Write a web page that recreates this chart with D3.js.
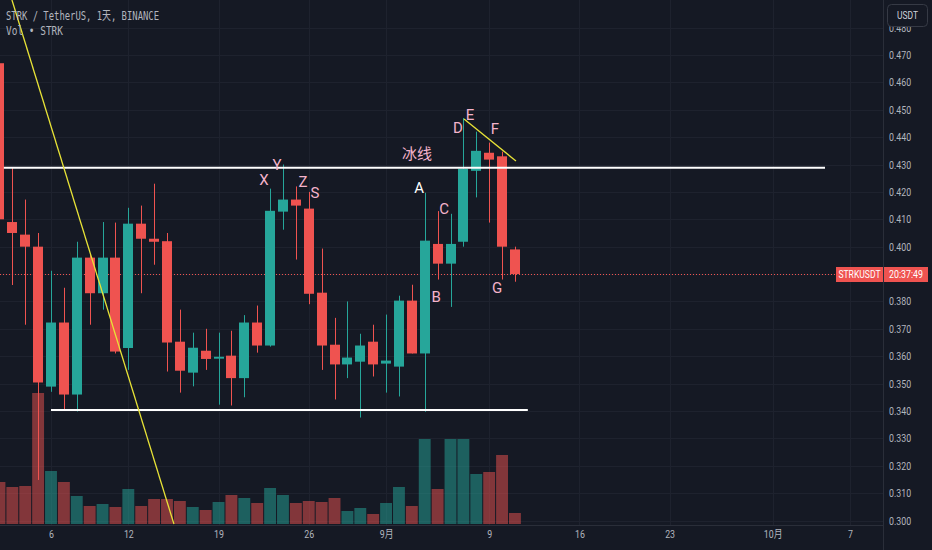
<!DOCTYPE html>
<html>
<head>
<meta charset="utf-8">
<script src="https://cdn.jsdelivr.net/npm/d3@7"></script>
<style>
    html, body { margin: 0; padding: 0; background: #141823; }
    svg { display: block; }
</style>
</head>
<body>
<div id="chart"></div>
<script>
// daily candles, STRK/USDT
const dates = ["2024-08-02", "2024-08-03", "2024-08-04", "2024-08-05", "2024-08-06", "2024-08-07", "2024-08-08",
    "2024-08-09", "2024-08-10", "2024-08-11", "2024-08-12", "2024-08-13", "2024-08-14", "2024-08-15",
    "2024-08-16", "2024-08-17", "2024-08-18", "2024-08-19", "2024-08-20", "2024-08-21", "2024-08-22",
    "2024-08-23", "2024-08-24", "2024-08-25", "2024-08-26", "2024-08-27", "2024-08-28", "2024-08-29",
    "2024-08-30", "2024-08-31", "2024-09-01", "2024-09-02", "2024-09-03", "2024-09-04", "2024-09-05",
    "2024-09-06", "2024-09-07", "2024-09-08", "2024-09-09", "2024-09-10", "2024-09-11"];
const opens = [0.467, 0.409, 0.4044, 0.400, 0.3489, 0.3723, 0.346, 0.396, 0.383, 0.396, 0.363, 0.4084, 0.4029, 0.402,
    0.3653, 0.354, 0.362, 0.3591, 0.3602, 0.352, 0.3723, 0.3639, 0.4128, 0.4172, 0.4139, 0.3832, 0.3642, 0.357,
    0.358, 0.3653, 0.3573, 0.3562, 0.3803, 0.361, 0.401, 0.3938, 0.4018, 0.4277, 0.4343, 0.433, 0.399];
const highs = [0.471, 0.4288, 0.4172, 0.405, 0.3912, 0.385, 0.4018, 0.397, 0.409, 0.4088, 0.4142, 0.415, 0.423, 0.405,
    0.377, 0.3686, 0.370, 0.3686, 0.3693, 0.375, 0.3785, 0.4212, 0.430, 0.422, 0.420, 0.3993, 0.374, 0.380,
    0.3682, 0.3715, 0.3752, 0.3821, 0.3861, 0.4197, 0.413, 0.412, 0.447, 0.442, 0.438, 0.4347, 0.400];
const lows = [0.407, 0.386, 0.3715, 0.3148, 0.347, 0.3405, 0.3398, 0.3715, 0.377, 0.361, 0.355, 0.383, 0.3934, 0.3544,
    0.3467, 0.349, 0.355, 0.3423, 0.342, 0.345, 0.3613, 0.3635, 0.4062, 0.3953, 0.379, 0.355, 0.3442, 0.352,
    0.3376, 0.3526, 0.3467, 0.3453, 0.361, 0.3397, 0.388, 0.378, 0.400, 0.418, 0.4088, 0.388, 0.3872];
const closes = [0.410, 0.405, 0.400, 0.3504, 0.3723, 0.346, 0.396, 0.383, 0.396, 0.3617, 0.4084, 0.4029, 0.4018, 0.365,
    0.3547, 0.3631, 0.359, 0.3598, 0.352, 0.3723, 0.3639, 0.4131, 0.4172, 0.415, 0.3828, 0.3639, 0.357, 0.3595,
    0.3639, 0.357, 0.3584, 0.3803, 0.361, 0.4022, 0.3938, 0.401, 0.4285, 0.435, 0.4318, 0.400, 0.390];
// volume, million STRK
const volumes = [42, 37, 38, 131, 53, 42, 28, 18, 20, 17, 35, 18, 25, 25, 23, 17, 14, 22, 29, 26, 21,
    36, 29, 21, 23, 22, 26, 13, 16, 10, 21, 37, 18, 85, 35, 85, 85, 50, 52, 69, 11];

// axis ticks
const priceTicks = [0.300, 0.310, 0.320, 0.330, 0.340, 0.350, 0.360, 0.370, 0.380, 0.390, 0.400,
    0.410, 0.420, 0.430, 0.440, 0.450, 0.460, 0.470, 0.480];
const timeTicks = ["2024-08-06", "2024-08-12", "2024-08-19", "2024-08-26", "2024-09-01", "2024-09-09",
    "2024-09-16", "2024-09-23", "2024-10-01", "2024-10-07"];
const timeLabels = ["6", "12", "19", "26", "9月", "9", "16", "23", "10月", "7"];

// drawings: [date, day fraction, price]
const iceLine = [["2024-08-02", 0.34, 0.4288], ["2024-10-05", 0.06, 0.4288]];
const floorLine = [["2024-08-06", 0, 0.3404], ["2024-09-12", 0, 0.3404]];
const downTrend = [["2024-08-02", 0.97, 0.4901], ["2024-08-15", 0.54, 0.2987]];
const topTrend = [["2024-09-07", 0.05, 0.4466], ["2024-09-11", 0.08, 0.4313]];
const letterTexts = ["X", "Y", "Z", "S", "A", "B", "C", "D", "E", "F", "G"];
const letterSpots = [["2024-08-22", 0.53, 0.4225], ["2024-08-23", 0.54, 0.4280], ["2024-08-25", 0.55, 0.4218],
    ["2024-08-26", 0.49, 0.4178], ["2024-09-03", 0.56, 0.4196], ["2024-09-04", 0.88, 0.3798],
    ["2024-09-05", 0.50, 0.4119], ["2024-09-06", 0.58, 0.4415], ["2024-09-07", 0.51, 0.4463],
    ["2024-09-09", 0.45, 0.4412], ["2024-09-09", 0.61, 0.3831]];
const iceLabel = ["冰线", "2024-09-03", 0.40, 0.4320];

const width = 932;
const height = 550;
const plotW = 883;
const plotH = 525;

const bg = "#151924";
const gridColor = "#1e222e";
const textColor = "#b2b5be";
const up = "#26a69a";
const down = "#ef5350";
const pink = "#f4b3cb";

const parse = d3.utcParse("%Y-%m-%d");
function at(p) {
    return new Date(parse(p[0]).getTime() + p[1] * 864e5);
}

const candles = dates.map((d, i) => ({
    date: parse(d), open: opens[i], high: highs[i], low: lows[i], close: closes[i], vol: volumes[i]
}));

const x = d3.scaleUtc()
    .domain([parse("2024-08-06"), parse("2024-10-07")])
    .range([51, 850]);

const y = d3.scaleLinear()
    .domain([0.300, 0.470])
    .range([520.5, 55]);

const yVol = d3.scaleLinear()
    .domain([0, d3.max(volumes)])
    .range([plotH - 1, 393]);

const step = x(parse("2024-08-07")) - x(parse("2024-08-06"));
const bodyW = Math.round(step * 0.78);

const svg = d3.select("#chart")
    .append("svg")
    .attr("width", width)
    .attr("height", height)
    .style("background", bg);

svg.append("clipPath").attr("id", "plot")
    .append("rect").attr("width", plotW).attr("height", plotH);

// grid
const grid = svg.append("g").attr("clip-path", "url(#plot)");
grid.selectAll("line.h")
    .data(priceTicks)
    .join("line")
    .attr("class", "h")
    .attr("x1", 0).attr("x2", plotW)
    .attr("y1", d => Math.round(y(d)) + 0.5)
    .attr("y2", d => Math.round(y(d)) + 0.5)
    .attr("stroke", gridColor);
grid.selectAll("line.v")
    .data(timeTicks)
    .join("line")
    .attr("class", "v")
    .attr("x1", d => Math.round(x(parse(d))) + 0.5)
    .attr("x2", d => Math.round(x(parse(d))) + 0.5)
    .attr("y1", 0).attr("y2", plotH)
    .attr("stroke", gridColor);

const plot = svg.append("g").attr("clip-path", "url(#plot)");

// volume
plot.append("g")
    .attr("opacity", 0.5)
    .selectAll("rect")
    .data(candles)
    .join("rect")
    .attr("x", d => x(d.date) - step / 2 + 0.5)
    .attr("width", step - 1)
    .attr("y", d => yVol(d.vol))
    .attr("height", d => yVol(0) - yVol(d.vol))
    .attr("fill", d => d.close >= d.open ? up : down);

// last price line
const last = candles[candles.length - 1].close;
plot.append("line")
    .attr("x1", 0).attr("x2", plotW)
    .attr("y1", Math.round(y(last)) + 0.5)
    .attr("y2", Math.round(y(last)) + 0.5)
    .attr("stroke", down)
    .attr("stroke-dasharray", "1,2");

// candles
const candle = plot.append("g")
    .selectAll("g")
    .data(candles)
    .join("g")
    .attr("fill", d => d.close >= d.open ? up : down)
    .attr("stroke", d => d.close >= d.open ? up : down);

candle.append("line")
    .attr("x1", d => Math.round(x(d.date)) + 0.5)
    .attr("x2", d => Math.round(x(d.date)) + 0.5)
    .attr("y1", d => y(d.high))
    .attr("y2", d => y(d.low));

candle.append("rect")
    .attr("stroke", "none")
    .attr("x", d => Math.round(x(d.date)) - Math.floor(bodyW / 2))
    .attr("width", bodyW)
    .attr("y", d => y(Math.max(d.open, d.close)))
    .attr("height", d => Math.max(1.5, Math.abs(y(d.open) - y(d.close))));

// drawings
function segment(pts, color, w) {
    plot.append("line")
        .attr("x1", x(at(pts[0]))).attr("y1", y(pts[0][2]))
        .attr("x2", x(at(pts[1]))).attr("y2", y(pts[1][2]))
        .attr("stroke", color)
        .attr("stroke-width", w);
}
segment(iceLine, "#ffffff", 2);
segment(floorLine, "#ffffff", 2);
segment(downTrend, "#e8e337", 1.3);
segment(topTrend, "#e8e337", 1.3);

plot.append("g")
    .attr("font-family", "Roboto, 'Noto Sans', sans-serif")
    .attr("font-size", "15px")
    .attr("text-anchor", "middle")
    .selectAll("text")
    .data(letterSpots)
    .join("text")
    .attr("x", d => x(at(d)))
    .attr("y", d => y(d[2]))
    .attr("fill", (d, i) => letterTexts[i] === "A" ? "#ffffff" : pink)
    .text((d, i) => letterTexts[i]);

plot.append("text")
    .attr("x", x(at(iceLabel.slice(1))))
    .attr("y", y(iceLabel[3]))
    .attr("text-anchor", "middle")
    .attr("font-family", "'Noto Sans CJK SC', sans-serif")
    .attr("font-size", "15px")
    .attr("fill", pink)
    .text(iceLabel[0]);

// pane borders
svg.append("line")
    .attr("x1", plotW + 0.5).attr("x2", plotW + 0.5)
    .attr("y1", 0).attr("y2", height)
    .attr("stroke", "#2a2e39");
svg.append("line")
    .attr("x1", 0).attr("x2", plotW)
    .attr("y1", plotH + 0.5).attr("y2", plotH + 0.5)
    .attr("stroke", "#2a2e39");

// narrow the axis text like the screenshot
function squeeze(sel, k) {
    sel.each(function () {
        const len = this.getComputedTextLength();
        d3.select(this).attr("textLength", len * k).attr("lengthAdjust", "spacingAndGlyphs");
    });
}

const yAxis = svg.append("g")
    .attr("transform", `translate(${plotW},0)`)
    .call(d3.axisRight(y).tickValues(priceTicks).tickFormat(d3.format(".3f")).tickSize(0).tickPadding(6));
yAxis.select(".domain").remove();
yAxis.selectAll("text")
    .attr("fill", textColor)
    .attr("font-family", "Roboto, sans-serif")
    .attr("font-size", "11px")
    .call(squeeze, 0.8);
// labels hidden under the price tag
yAxis.selectAll(".tick")
    .filter(d => Math.abs(y(d) - y(last)) < 12)
    .remove();

const xAxis = svg.append("g")
    .attr("transform", `translate(0,${plotH})`)
    .call(d3.axisBottom(x).tickValues(timeTicks.map(parse)).tickFormat((d, i) => timeLabels[i]).tickSize(0).tickPadding(5));
xAxis.select(".domain").remove();
xAxis.selectAll("text")
    .attr("fill", textColor)
    .attr("font-family", "Roboto, 'Noto Sans CJK SC', sans-serif")
    .attr("font-size", "11px")
    .call(squeeze, 0.8);

// currency box
svg.append("rect")
    .attr("x", 887.5).attr("y", 4.5)
    .attr("width", 40).attr("height", 22)
    .attr("rx", 4)
    .attr("fill", bg)
    .attr("stroke", "#363a45");
svg.append("text")
    .attr("x", 907.5).attr("y", 19)
    .attr("text-anchor", "middle")
    .attr("fill", "#d1d4dc")
    .attr("font-family", "Roboto, sans-serif")
    .attr("font-size", "10px")
    .text("USDT")
    .call(squeeze, 0.85);

// last price tag
const tagY = Math.round(y(last)) - 7;
svg.append("rect").attr("x", 836).attr("y", tagY).attr("width", 47).attr("height", 15).attr("fill", down);
svg.append("rect").attr("x", 884).attr("y", tagY).attr("width", 44).attr("height", 15).attr("fill", down);
svg.append("text")
    .attr("x", 859.5).attr("y", tagY + 11)
    .attr("text-anchor", "middle")
    .attr("fill", "#ffffff")
    .attr("font-family", "Roboto, sans-serif")
    .attr("font-size", "11px")
    .text("STRKUSDT")
    .call(squeeze, 0.78);
svg.append("text")
    .attr("x", 906).attr("y", tagY + 11)
    .attr("text-anchor", "middle")
    .attr("fill", "#ffffff")
    .attr("font-family", "Roboto, sans-serif")
    .attr("font-size", "11px")
    .text("20:37:49")
    .call(squeeze, 0.8);

// legend
svg.append("text")
    .attr("x", 6).attr("y", 20)
    .attr("fill", textColor)
    .attr("font-family", "'DejaVu Sans Mono', 'Noto Sans CJK SC', monospace")
    .attr("font-size", "12px")
    .attr("textLength", 153).attr("lengthAdjust", "spacingAndGlyphs")
    .text("STRK / TetherUS, 1天, BINANCE");
svg.append("text")
    .attr("x", 6).attr("y", 35)
    .attr("fill", textColor)
    .attr("font-family", "'DejaVu Sans Mono', monospace")
    .attr("font-size", "12px")
    .attr("textLength", 57).attr("lengthAdjust", "spacingAndGlyphs")
    .text("Vol • STRK");
</script>
</body>
</html>
